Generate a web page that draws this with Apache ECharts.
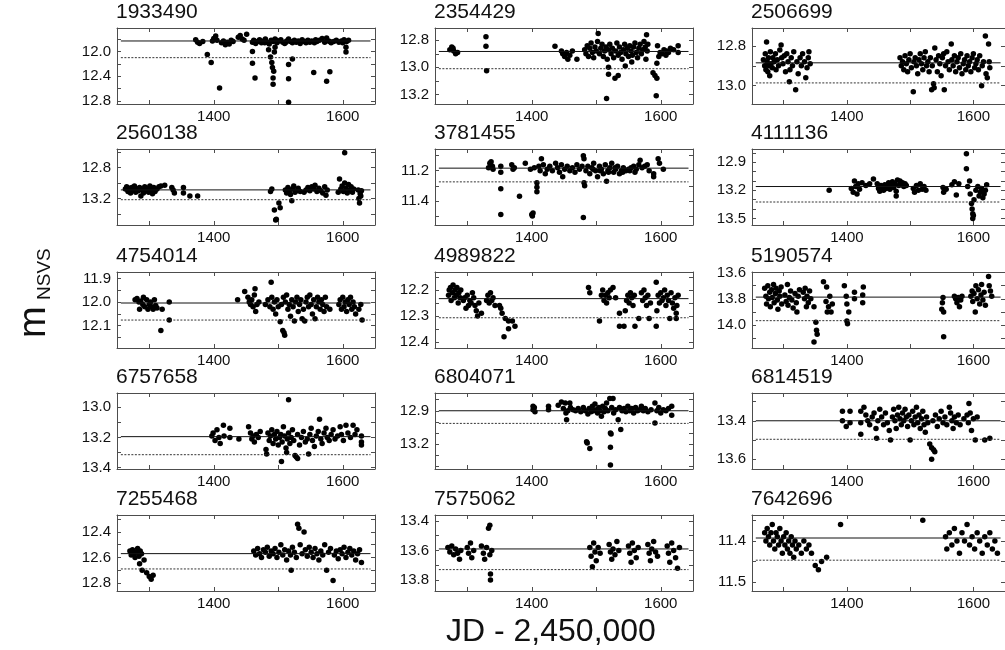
<!DOCTYPE html>
<html>
<head>
<meta charset="utf-8">
<script src="https://cdn.jsdelivr.net/npm/echarts@6.0.0/dist/echarts.min.js"></script>
<style>
html, body { margin: 0; background: #fff; }
#chart { width: 1005px; height: 650px; }
</style>
</head>
<body>
<div id="chart"></div>
<script>
// star ids, reading order (3 per row)
const stars = ['1933490', '2354429', '2506699', '2560138', '3781455', '4111136', '4754014', '4989822',
  '5190574', '6757658', '6804071', '6814519', '7255468', '7575062', '7642696'];

const xLabels = [1400, 1600];
const xTicks = [1300, 1400, 1500, 1600];

// y ranges (magnitudes, axis inverted)
const yMins = [11.62, 12.71, 12.71, 12.56, 11.056, 12.76, 11.873, 12.13, 13.595, 12.905, 12.74, 13.256, 12.267, 13.36, 11.337];
const yMaxs = [12.85, 13.27, 13.092, 13.545, 11.56, 13.57, 12.194, 12.424, 14.176, 13.41, 13.425, 13.65, 12.863, 13.875, 11.522];
const yLabels = [
  [12.0, 12.4, 12.8], [12.8, 13.0, 13.2], [12.8, 13.0], [12.8, 13.2], [11.2, 11.4],
  [12.9, 13.2, 13.5], [11.9, 12.0, 12.1], [12.2, 12.3, 12.4], [13.6, 13.8, 14.0], [13.0, 13.2, 13.4],
  [12.9, 13.2], [13.4, 13.6], [12.4, 12.6, 12.8], [13.4, 13.6, 13.8], [11.4, 11.5]
];
const yTicks = [
  [11.8, 12.0, 12.2, 12.4, 12.6, 12.8], [12.8, 12.9, 13.0, 13.1, 13.2], [12.8, 12.9, 13.0],
  [12.6, 12.8, 13.0, 13.2, 13.4], [11.1, 11.2, 11.3, 11.4, 11.5],
  [12.8, 12.9, 13.0, 13.1, 13.2, 13.3, 13.4, 13.5], [11.9, 11.95, 12.0, 12.05, 12.1, 12.15],
  [12.15, 12.2, 12.25, 12.3, 12.35, 12.4], [13.6, 13.7, 13.8, 13.9, 14.0, 14.1],
  [13.0, 13.1, 13.2, 13.3, 13.4], [12.8, 12.9, 13.0, 13.1, 13.2, 13.3, 13.4], [13.3, 13.4, 13.5, 13.6],
  [12.3, 12.4, 12.5, 12.6, 12.7, 12.8], [13.4, 13.5, 13.6, 13.7, 13.8], [11.35, 11.4, 11.45, 11.5]
];

// median (solid) and threshold (dotted) levels
const medians = [11.83, 12.883, 12.885, 13.09, 11.183, 13.16, 12.004, 12.233, 13.787, 13.195, 12.9, 13.4, 12.57, 13.59, 11.393];
const limits = [12.1, 13.01, 12.986, 13.217, 11.274, 13.325, 12.076, 12.307, 13.967, 13.315, 13.014, 13.496, 12.69, 13.73, 11.447];
const lineSpan = [1256, 1643];

// light curves [JD-2450000, mag]
const s1933490 = [[1372,11.81],[1375,11.85],[1378,11.87],[1383,11.84],[1398,11.83],[1400,11.79],[1403,11.75],[1405,11.82],[1412,11.86],[1415,11.83],[1418,11.89],[1421,11.85],[1424,11.88],[1427,11.82],[1430,11.84],[1438,11.77],[1441,11.74],[1444,11.8],[1447,11.82],[1451,11.72],[1460,11.85],[1462,11.82],[1465,11.87],[1468,11.84],[1471,11.81],[1474,11.86],[1477,11.83],[1480,11.8],[1483,11.85],[1486,11.88],[1489,11.82],[1492,11.84],[1495,11.8],[1498,11.86],[1501,11.83],[1504,11.81],[1507,11.85],[1510,11.87],[1513,11.83],[1516,11.8],[1519,11.84],[1522,11.86],[1525,11.82],[1528,11.85],[1531,11.83],[1534,11.87],[1537,11.81],[1540,11.84],[1543,11.86],[1546,11.82],[1549,11.85],[1552,11.83],[1556,11.86],[1560,11.84],[1564,11.82],[1568,11.79],[1572,11.85],[1575,11.78],[1578,11.83],[1582,11.86],[1586,11.84],[1590,11.82],[1594,11.85],[1598,11.83],[1602,11.81],[1606,11.84],[1609,11.82],[1463,11.83],[1479,11.86],[1497,11.82],[1512,11.85],[1527,11.84],[1545,11.83],[1558,11.81],[1580,11.84],[1600,11.86],
  [1390,12.05],[1396,12.18],[1409,12.59],[1464,12.43],[1460,12.0],[1460,12.19],[1485,11.97],[1488,12.09],[1490,12.18],[1491,12.26],[1492,12.43],[1492,12.53],[1494,12.01],[1495,11.93],[1493,12.32],[1516,12.21],[1516,12.44],[1516,12.82],[1522,12.12],[1555,12.34],[1575,12.48],[1580,12.33],[1605,11.93],[1605,12.01]];
const s2354429 = [[1273,12.87],[1276,12.85],[1279,12.88],[1282,12.9],[1285,12.89],[1278,12.86],[1329,12.775],[1329,12.845],[1330,13.025],[1436,12.845],[1446,12.88],[1448,12.9],[1451,12.92],[1454,12.89],[1456,12.94],[1459,12.91],[1463,12.88],[1470,12.94],
  [1482,12.87],[1484,12.9],[1486,12.84],[1488,12.92],[1490,12.86],[1492,12.82],[1494,12.89],[1496,12.93],[1498,12.85],[1500,12.88],[1502,12.81],[1503,12.75],[1505,12.9],[1507,12.86],[1509,12.83],[1511,12.92],[1513,12.88],[1515,12.85],[1517,12.94],[1519,12.87],[1519,13.0],[1519,13.05],[1516,13.23],[1521,12.83],[1523,12.9],[1525,12.86],[1527,12.93],[1529,13.08],[1530,12.88],[1532,12.82],[1534,13.06],[1534,12.91],[1536,12.85],[1538,12.89],[1540,12.94],[1542,12.87],[1544,12.83],[1545,12.99],[1546,12.9],[1548,12.86],[1550,12.92],[1552,12.84],[1555,12.96],[1554,12.88],[1556,12.91],[1558,12.85],[1560,12.82],[1562,12.89],[1564,12.93],[1566,12.86],[1568,12.83],[1570,12.9],[1572,12.87],[1574,12.81],[1576,12.85],[1577,12.94],[1578,12.76],[1579,12.88],[1580,12.83],
  [1588,13.04],[1591,13.06],[1594,13.08],[1593,13.21],[1594,12.97],[1595,12.84],[1597,12.92],[1599,12.89],[1602,12.9],[1605,12.87],[1608,12.91],[1609,12.88],[1612,12.89],[1615,12.86],[1620,12.87],[1627,12.84],[1627,12.89]];
const s2506699 = [[1268,12.87],[1270,12.9],[1271,12.84],[1272,12.92],[1273,12.78],[1274,12.88],[1275,12.93],[1276,12.86],[1277,12.9],[1278,12.95],[1279,12.83],[1280,12.89],[1282,12.91],[1283,12.86],[1285,12.88],[1287,12.84],[1288,12.92],[1290,12.87],[1292,12.9],[1294,12.82],[1296,12.795],[1297,12.86],[1299,12.89],[1301,12.85],[1303,12.93],[1305,12.84],[1307,12.88],[1309,12.98],[1310,12.92],[1312,12.86],[1314,12.9],[1316,12.83],[1319,13.02],[1321,12.88],[1323,12.94],[1326,12.86],[1328,12.9],[1330,12.84],[1333,12.88],[1335,12.96],[1337,12.91],[1339,12.86],[1340,12.83],[1342,12.89],
  [1484,12.86],[1486,12.9],[1488,12.88],[1490,12.92],[1492,12.85],[1494,12.89],[1496,12.93],[1498,12.87],[1500,12.84],[1502,12.91],[1505,13.03],[1506,12.88],[1508,12.86],[1510,12.9],[1512,12.94],[1514,12.87],[1516,12.84],[1518,12.89],[1520,12.92],[1522,12.86],[1524,12.83],[1526,12.9],[1528,12.88],[1530,12.93],[1532,12.86],[1534,13.02],[1535,12.9],[1537,12.99],[1538,13.01],[1539,12.81],[1541,12.87],[1543,12.93],[1545,12.85],[1547,12.89],[1549,12.95],[1551,12.86],[1553,12.84],[1554,13.02],[1556,12.9],[1558,12.83],[1560,12.88],[1562,12.92],[1565,12.79],[1566,12.87],[1568,12.9],[1570,12.85],[1572,12.93],[1574,12.88],[1576,12.86],[1578,12.91],[1580,12.84],[1582,12.94],[1584,12.89],[1586,12.87],[1588,12.92],[1590,12.85],[1592,12.9],[1594,12.88],[1596,12.93],[1598,12.86],[1600,12.84],[1602,12.91],[1604,12.89],[1606,12.87],[1608,12.92],[1610,12.85],[1613,13.0],[1614,12.9],[1616,12.88],[1619,12.75],[1620,12.94],[1622,12.96],[1624,12.79],[1625,12.88],[1626,12.91]];
const s2560138 = [[1263,13.08],[1265,13.05],[1267,13.11],[1269,13.07],[1271,13.13],[1273,13.06],[1275,13.09],[1277,13.04],[1279,13.12],[1281,13.08],[1283,13.1],[1285,13.06],[1287,13.17],[1289,13.09],[1291,13.13],[1293,13.05],[1295,13.1],[1297,13.07],[1299,13.12],[1301,13.04],[1303,13.09],[1305,13.14],[1307,13.06],[1309,13.11],[1312,13.08],[1315,13.05],[1318,13.04],[1324,13.03],[1335,13.06],[1337,13.09],[1339,13.13],[1353,13.06],[1353,13.13],[1363,13.17],[1375,13.17],
  [1488,13.11],[1490,13.08],[1494,13.35],[1496,13.48],[1497,13.47],[1501,13.26],[1503,13.32],[1511,13.09],[1513,13.13],[1515,13.06],[1517,13.11],[1519,13.15],[1521,13.23],[1522,13.08],[1524,13.04],[1526,13.12],[1528,13.1],[1531,13.07],[1534,13.11],[1540,13.12],[1543,13.09],[1546,13.06],[1549,13.1],[1552,13.05],[1555,13.08],[1557,13.03],[1560,13.11],[1563,13.07],[1566,13.1],[1569,13.13],[1572,13.05],[1574,13.16],[1576,13.09],
  [1593,13.12],[1595,12.95],[1597,13.08],[1599,13.04],[1601,13.11],[1603,12.61],[1603,13.0],[1605,13.07],[1607,13.13],[1609,13.02],[1611,13.09],[1613,13.05],[1615,13.12],[1617,13.08],[1624,13.09],[1625,13.2],[1626,13.26],[1627,13.14],[1628,13.17],[1629,13.1]];
const s3781455 = [[1333,11.18],[1335,11.15],[1337,11.14],[1339,11.17],[1340,11.19],[1352,11.17],[1352,11.21],[1352,11.32],[1352,11.49],[1369,11.16],[1371,11.19],[1373,11.18],[1381,11.37],[1390,11.15],[1400,11.49],[1401,11.5],[1402,11.48],[1398,11.19],[1404,11.18],[1408,11.28],[1408,11.31],[1408,11.34],[1411,11.17],[1413,11.2],[1415,11.12],[1418,11.16],[1421,11.22],[1424,11.19],[1428,11.17],[1432,11.2],[1437,11.15],[1440,11.18],[1443,11.21],[1446,11.16],[1448,11.24],[1451,11.19],[1455,11.17],[1459,11.2],[1463,11.18],[1467,11.21],[1470,11.16],[1474,11.19],[1478,11.17],[1480,11.1],[1481,11.12],[1481,11.28],[1482,11.3],[1480,11.51],[1484,11.2],[1487,11.17],[1490,11.22],[1493,11.18],[1496,11.15],[1499,11.2],[1502,11.24],[1505,11.17],[1508,11.19],[1511,11.22],[1514,11.16],[1516,11.27],[1518,11.2],[1521,11.18],[1524,11.15],[1527,11.21],[1530,11.19],[1533,11.17],[1536,11.22],[1539,11.2],[1542,11.18],[1546,11.2],[1550,11.19],[1554,11.18],[1558,11.17],[1562,11.19],[1566,11.16],[1568,11.13],[1571,11.18],[1575,11.17],[1579,11.16],[1582,11.2],[1589,11.22],[1589,11.24],[1596,11.12],[1598,11.15],[1604,11.19],[1495,11.19],[1506,11.2],[1519,11.21],[1529,11.18],[1541,11.21],[1552,11.2],[1560,11.21]];
const s4111136 = [[1372,13.2],[1407,13.18],[1410,13.22],[1412,13.1],[1414,13.16],[1416,13.24],[1418,13.13],[1420,13.19],[1424,13.12],[1430,13.15],[1436,13.13],[1442,13.08],[1448,13.13],[1450,13.18],[1452,13.21],[1454,13.15],[1456,13.17],[1458,13.2],[1460,13.14],[1462,13.18],[1464,13.16],[1466,13.12],[1468,13.19],[1470,13.15],[1472,13.11],[1474,13.17],[1476,13.13],[1478,13.26],[1478,13.21],[1480,13.09],[1482,13.15],[1484,13.1],[1486,13.14],[1488,13.12],[1490,13.16],[1492,13.13],[1494,13.15],
  [1505,13.18],[1507,13.22],[1510,13.15],[1513,13.2],[1516,13.13],[1519,13.19],[1522,13.16],[1525,13.2],[1552,13.17],[1553,13.22],[1557,13.19],[1566,13.14],[1570,13.11],[1573,13.25],[1577,13.13],[1589,12.81],[1589,12.97],[1591,13.16],[1594,13.1],[1595,13.24],[1597,13.34],[1598,13.4],[1599,13.45],[1599,13.5],[1600,13.47],[1601,13.3],[1604,13.2],[1607,13.16],[1609,13.26],[1611,13.22],[1613,13.18],[1615,13.28],[1617,13.24],[1619,13.2],[1621,13.14]];
const s4754014 = [[1278,11.99],[1281,11.985],[1284,12.0],[1287,11.995],[1290,12.01],[1293,12.02],[1296,11.99],[1298,12.03],[1300,12.01],[1302,12.0],[1304,12.02],[1306,12.03],[1308,11.99],[1285,12.03],[1291,11.98],[1310,12.015],[1312,12.025],[1318,12.12],[1331,12.0],[1331,12.076],[1320,12.03],
  [1437,11.99],[1448,11.955],[1453,11.98],[1455,12.0],[1457,12.01],[1459,11.99],[1461,12.02],[1463,11.97],[1464,11.944],[1465,12.04],[1467,12.01],[1470,12.0],[1480,12.01],[1484,11.99],[1487,12.02],[1489,11.916],[1490,11.98],[1492,12.03],[1494,12.0],[1496,12.05],[1498,11.99],[1500,12.02],[1503,12.083],[1505,12.01],[1507,12.12],[1509,12.13],[1510,12.14],[1508,11.98],[1511,12.0],[1513,11.97],[1515,12.03],[1517,12.01],[1519,12.06],[1521,11.99],[1523,12.02],[1525,12.08],[1527,12.0],[1529,11.98],[1531,12.04],[1533,12.01],[1535,11.99],[1537,12.07],[1539,12.03],[1541,12.08],[1543,12.0],[1545,11.98],[1547,12.02],[1549,11.97],[1551,12.01],[1553,12.05],[1555,11.99],[1557,12.07],[1559,12.02],[1561,11.98],[1563,12.0],[1565,12.03],[1567,11.99],[1569,12.01],[1571,12.04],[1573,11.98],[1575,12.02],[1580,12.03],[1594,12.01],[1596,11.99],[1598,12.03],[1600,11.98],[1602,12.02],[1604,12.0],[1606,12.04],[1608,11.99],[1610,12.01],[1612,11.98],[1614,12.03],[1616,12.0],[1618,12.02],[1620,12.05],[1625,12.03],[1628,12.01],[1630,12.076]];
const s4989822 = [[1271,12.22],[1272,12.2],[1274,12.19],[1275,12.24],[1277,12.21],[1278,12.18],[1280,12.23],[1281,12.2],[1283,12.22],[1284,12.19],[1286,12.25],[1287,12.21],[1289,12.23],[1290,12.2],[1294,12.24],[1296,12.23],[1298,12.27],[1300,12.22],[1302,12.26],[1304,12.24],[1306,12.25],[1308,12.21],[1310,12.23],[1312,12.26],[1314,12.28],[1316,12.3],[1318,12.25],[1322,12.29],[1330,12.24],[1332,12.22],[1334,12.25],[1336,12.21],[1338,12.24],[1340,12.23],[1343,12.26],[1350,12.26],[1352,12.27],[1354,12.29],[1359,12.31],[1364,12.32],[1357,12.38],[1364,12.35],[1370,12.32],[1374,12.34],
  [1488,12.19],[1490,12.21],[1505,12.32],[1508,12.22],[1510,12.2],[1512,12.24],[1514,12.22],[1516,12.25],[1518,12.21],[1520,12.23],[1522,12.2],[1526,12.19],[1530,12.23],[1536,12.34],[1536,12.29],[1543,12.34],[1545,12.28],[1547,12.24],[1549,12.22],[1551,12.25],[1553,12.21],[1555,12.23],[1557,12.26],[1559,12.22],[1560,12.34],[1566,12.31],[1570,12.21],[1572,12.24],[1574,12.2],[1576,12.23],[1578,12.26],[1580,12.22],[1582,12.31],[1584,12.25],[1593,12.17],[1593,12.34],[1594,12.28],[1596,12.22],[1598,12.25],[1600,12.21],[1602,12.24],[1604,12.23],[1606,12.2],[1608,12.26],[1610,12.22],[1612,12.24],[1614,12.31],[1616,12.21],[1618,12.25],[1620,12.27],[1622,12.23],[1624,12.31],[1624,12.29],[1625,12.26],[1627,12.22]];
const s5190574 = [[1270,13.72],[1272,13.78],[1273,13.84],[1275,13.7],[1276,13.8],[1278,13.75],[1279,13.86],[1281,13.73],[1282,13.79],[1284,13.69],[1285,13.83],[1287,13.76],[1288,13.72],[1290,13.81],[1291,13.88],[1293,13.74],[1294,13.78],[1296,13.71],[1297,13.84],[1302,13.77],[1304,13.82],[1306,13.69],[1307,13.85],[1309,13.79],[1311,13.74],[1313,13.81],[1315,13.87],[1318,13.76],[1320,13.83],[1321,13.9],[1323,13.78],[1325,13.73],[1331,13.75],[1333,13.8],[1334,13.72],[1336,13.86],[1337,13.78],[1339,13.83],[1341,13.74],[1343,13.8],[1348,13.86],[1351,13.98],[1352,14.04],[1353,14.07],[1348,14.13],[1363,13.67],[1368,13.71],[1367,13.82],[1369,13.9],[1371,13.86],[1373,13.78],[1375,13.9],[1377,13.84],[1396,13.7],[1399,13.78],[1400,13.84],[1400,13.97],[1401,13.99],[1403,13.9],[1412,13.75],[1412,13.8],[1426,13.71],[1425,13.77],[1425,13.83],
  [1552,13.79],[1551,13.83],[1550,13.88],[1553,13.9],[1553,14.09],[1570,13.78],[1572,13.8],[1574,13.83],[1576,13.79],[1578,13.86],[1580,13.81],[1582,13.78],[1596,13.78],[1598,13.74],[1599,13.82],[1601,13.76],[1603,13.9],[1604,13.7],[1606,13.8],[1608,13.73],[1610,13.84],[1612,13.77],[1613,13.69],[1615,13.81],[1617,13.75],[1619,13.85],[1624,13.63],[1625,13.7],[1627,13.74],[1629,13.78]];
const s6757658 = [[1397,13.19],[1399,13.17],[1402,13.22],[1405,13.15],[1408,13.2],[1410,13.24],[1415,13.12],[1416,13.19],[1425,13.14],[1425,13.2],[1439,13.21],[1454,13.13],[1457,13.17],[1459,13.21],[1461,13.19],[1463,13.23],[1466,13.18],[1469,13.2],[1472,13.16],[1481,13.28],[1482,13.31],[1484,13.17],[1486,13.22],[1488,13.19],[1490,13.15],[1492,13.24],[1494,13.18],[1496,13.21],[1498,13.16],[1500,13.25],[1502,13.2],[1504,13.18],[1505,13.36],[1506,13.23],[1508,13.13],[1510,13.19],[1512,13.27],[1513,13.3],[1514,13.21],[1516,12.95],[1516,13.17],[1518,13.24],[1520,13.2],[1522,13.15],[1524,13.22],[1526,13.32],[1528,13.33],[1530,13.34],[1530,13.18],[1533,13.25],[1536,13.2],[1539,13.16],[1542,13.23],[1545,13.21],[1547,13.31],[1549,13.18],[1551,13.14],[1553,13.22],[1556,13.26],[1559,13.19],[1562,13.16],[1564,13.08],[1566,13.21],[1568,13.24],[1571,13.17],[1574,13.14],[1576,13.2],[1579,13.22],[1582,13.18],[1585,13.15],[1588,13.21],[1592,13.19],[1596,13.13],[1598,13.18],[1601,13.22],[1605,13.12],[1608,13.17],[1612,13.2],[1616,13.12],[1619,13.18],[1622,13.15],[1629,13.19],[1629,13.23],[1629,13.25]];
const s6804071 = [[1402,12.86],[1402,12.89],[1405,12.91],[1404,12.87],[1426,12.86],[1426,12.89],[1441,12.85],[1446,12.82],[1452,12.83],[1459,12.83],[1449,12.88],[1453,12.92],[1454,12.98],[1456,12.9],[1460,12.87],[1464,12.89],[1468,12.9],[1472,12.88],[1476,12.91],[1480,12.87],[1483,12.9],[1485,13.18],[1486,13.19],[1490,13.24],[1487,12.93],[1489,12.88],[1492,12.91],[1494,12.86],[1496,12.9],[1498,12.84],[1500,12.89],[1502,12.92],[1504,12.87],[1506,12.9],[1508,12.95],[1510,12.86],[1512,12.91],[1514,12.88],[1516,12.83],[1518,12.9],[1521,12.79],[1526,12.79],[1522,13.1],[1523,13.11],[1522,13.23],[1522,13.39],[1524,12.87],[1527,12.92],[1530,12.89],[1534,12.98],[1536,12.87],[1538,13.07],[1540,12.9],[1543,12.88],[1546,12.91],[1549,12.86],[1552,12.9],[1555,12.88],[1558,12.92],[1561,12.87],[1564,12.9],[1567,12.89],[1570,12.86],[1573,12.9],[1576,12.88],[1580,12.91],[1585,12.89],[1591,12.83],[1591,13.01],[1594,12.9],[1597,12.87],[1600,12.92],[1604,12.89],[1608,12.9],[1612,12.88],[1617,12.86],[1617,12.94]];
const s6814519 = [[1393,13.35],[1393,13.4],[1399,13.43],[1405,13.35],[1405,13.41],[1422,13.35],[1422,13.41],[1422,13.47],[1427,13.33],[1430,13.37],[1433,13.4],[1436,13.42],[1440,13.38],[1443,13.36],[1447,13.49],[1446,13.44],[1449,13.4],[1452,13.34],[1455,13.38],[1458,13.42],[1461,13.36],[1464,13.41],[1467,13.45],[1469,13.5],[1472,13.38],[1474,13.34],[1476,13.4],[1478,13.44],[1480,13.37],[1482,13.33],[1484,13.39],[1486,13.42],[1488,13.36],[1490,13.4],[1492,13.34],[1494,13.38],[1496,13.43],[1498,13.37],[1500,13.5],[1502,13.4],[1504,13.35],[1506,13.42],[1508,13.38],[1510,13.33],[1512,13.41],[1514,13.37],[1516,13.44],[1518,13.39],[1520,13.35],[1522,13.42],[1524,13.46],[1526,13.38],[1528,13.41],[1531,13.52],[1534,13.54],[1537,13.55],[1534,13.6],[1539,13.56],[1536,13.4],[1540,13.37],[1543,13.43],[1546,13.39],[1549,13.35],[1552,13.41],[1555,13.38],[1558,13.42],[1562,13.33],[1564,13.36],[1566,13.4],[1568,13.44],[1570,13.38],[1573,13.41],[1576,13.37],[1579,13.42],[1585,13.39],[1590,13.37],[1593,13.31],[1592,13.41],[1595,13.36],[1597,13.45],[1600,13.39],[1603,13.5],[1606,13.38],[1618,13.5],[1626,13.49]];
const s7255468 = [[1270,12.55],[1272,12.58],[1274,12.54],[1276,12.57],[1278,12.6],[1280,12.56],[1282,12.53],[1284,12.59],[1286,12.55],[1288,12.57],[1285,12.65],[1289,12.7],[1292,12.62],[1296,12.72],[1300,12.75],[1303,12.77],[1306,12.74],
  [1462,12.55],[1465,12.58],[1468,12.53],[1471,12.57],[1474,12.6],[1477,12.54],[1480,12.56],[1483,12.52],[1486,12.59],[1489,12.55],[1492,12.57],[1495,12.53],[1498,12.6],[1501,12.56],[1504,12.5],[1507,12.58],[1510,12.54],[1513,12.62],[1516,12.55],[1519,12.58],[1520,12.7],[1522,12.52],[1525,12.56],[1528,12.6],[1530,12.34],[1532,12.37],[1534,12.5],[1537,12.57],[1540,12.4],[1542,12.54],[1545,12.59],[1548,12.52],[1551,12.56],[1554,12.6],[1557,12.53],[1560,12.57],[1563,12.62],[1566,12.55],[1569,12.58],[1572,12.5],[1575,12.7],[1578,12.56],[1581,12.53],[1585,12.78],[1587,12.58],[1590,12.55],[1593,12.61],[1596,12.54],[1599,12.57],[1602,12.52],[1605,12.6],[1608,12.56],[1611,12.53],[1614,12.58],[1617,12.55],[1620,12.62],[1623,12.57],[1626,12.54],[1629,12.64]];
const s7575062 = [[1270,13.58],[1273,13.61],[1276,13.57],[1279,13.63],[1282,13.59],[1285,13.62],[1288,13.66],[1290,13.6],[1300,13.58],[1302,13.62],[1305,13.55],[1307,13.65],[1310,13.6],[1322,13.57],[1325,13.62],[1327,13.66],[1330,13.58],[1333,13.45],[1335,13.43],[1335,13.63],[1336,13.76],[1336,13.8],[1338,13.6],
  [1490,13.58],[1492,13.64],[1494,13.71],[1496,13.55],[1498,13.61],[1500,13.67],[1503,13.58],[1506,13.62],[1520,13.56],[1522,13.61],[1524,13.66],[1526,13.59],[1529,13.63],[1532,13.54],[1535,13.6],[1550,13.57],[1552,13.62],[1554,13.68],[1556,13.55],[1559,13.6],[1562,13.65],[1565,13.58],[1580,13.56],[1582,13.62],[1584,13.67],[1586,13.59],[1589,13.54],[1592,13.61],[1595,13.64],[1610,13.57],[1612,13.62],[1614,13.68],[1617,13.55],[1620,13.6],[1623,13.65],[1626,13.72],[1629,13.58]];
const s7642696 = [[1270,11.38],[1272,11.4],[1274,11.37],[1276,11.39],[1278,11.41],[1280,11.38],[1282,11.36],[1284,11.4],[1286,11.42],[1288,11.38],[1290,11.39],[1292,11.41],[1294,11.37],[1296,11.4],[1298,11.43],[1300,11.39],[1302,11.41],[1304,11.38],[1306,11.42],[1308,11.4],[1310,11.43],[1312,11.39],[1314,11.41],[1316,11.44],[1318,11.4],[1320,11.42],[1324,11.41],[1328,11.43],[1332,11.4],[1336,11.42],[1340,11.41],[1344,11.43],[1350,11.46],[1355,11.47],[1360,11.45],[1368,11.44],[1390,11.36],[1520,11.35],
  [1556,11.39],[1558,11.42],[1562,11.38],[1566,11.41],[1570,11.37],[1574,11.4],[1578,11.43],[1582,11.38],[1586,11.4],[1590,11.36],[1594,11.41],[1598,11.39],[1602,11.42],[1606,11.38],[1610,11.4],[1614,11.43],[1618,11.39],[1622,11.41],[1626,11.38],[1630,11.42],[1634,11.4],[1638,11.43]];

const panels = [s1933490, s2354429, s2506699, s2560138, s3781455, s4111136, s4754014, s4989822,
  s5190574, s6757658, s6804071, s6814519, s7255468, s7575062, s7642696];

// layout
const colX = [117, 435, 752];
const rowY = [28, 149, 272, 393, 515];
const W = 258, H = 76;
const frame = '#4d4d4d';
const font = 'Liberation Sans, Arial, sans-serif';

const grid = [], xAxis = [], yAxis = [], series = [], title = [];

stars.forEach(function (name, i) {
  const left = colX[i % 3], top = rowY[Math.floor(i / 3)];
  grid.push({ left: left, top: top, width: W, height: H });
  title.push({
    text: name, left: left - 1, top: top - 26, padding: 0,
    textStyle: { fontSize: 21, fontWeight: 'normal', fontFamily: font, color: '#111' }
  });
  const tick = function (vals) {
    return { show: true, inside: true, length: 4, customValues: vals, lineStyle: { color: frame } };
  };
  const line = { show: true, onZero: false, lineStyle: { color: frame, width: 1 } };
  xAxis.push({
    gridIndex: i, type: 'value', min: 1250, max: 1650, position: 'bottom',
    axisLine: line, axisTick: tick(xTicks), splitLine: { show: false },
    axisLabel: {
      customValues: xLabels, margin: 5, fontSize: 15, color: '#111', fontFamily: font,
      formatter: function (v) { return String(v); }
    }
  });
  xAxis.push({
    gridIndex: i, type: 'value', min: 1250, max: 1650, position: 'top',
    axisLine: line, axisTick: tick(xTicks), splitLine: { show: false }, axisLabel: { show: false }
  });
  yAxis.push({
    gridIndex: i, type: 'value', inverse: true, min: yMins[i], max: yMaxs[i], position: 'left',
    axisLine: line, axisTick: tick(yTicks[i]), splitLine: { show: false },
    axisLabel: {
      customValues: yLabels[i], margin: 6, fontSize: 15, color: '#111', fontFamily: font,
      formatter: function (v) { return v.toFixed(1); }
    }
  });
  yAxis.push({
    gridIndex: i, type: 'value', inverse: true, min: yMins[i], max: yMaxs[i], position: 'right',
    axisLine: line, axisTick: tick(yTicks[i]), splitLine: { show: false }, axisLabel: { show: false }
  });
  series.push({
    type: 'scatter', xAxisIndex: 2 * i, yAxisIndex: 2 * i, data: panels[i],
    symbolSize: 5.5, itemStyle: { color: '#000', opacity: 1 }, silent: true
  });
  series.push({
    type: 'line', xAxisIndex: 2 * i, yAxisIndex: 2 * i, symbol: 'none', silent: true,
    data: [[lineSpan[0], medians[i]], [lineSpan[1], medians[i]]],
    lineStyle: { color: '#111', width: 1 }
  });
  series.push({
    type: 'line', xAxisIndex: 2 * i, yAxisIndex: 2 * i, symbol: 'none', silent: true,
    data: [[lineSpan[0], limits[i]], [lineSpan[1], limits[i]]],
    lineStyle: { color: '#333', width: 1, type: [2, 1.5] }
  });
});

const option = {
  animation: false,
  backgroundColor: '#fff',
  title: title,
  grid: grid,
  xAxis: xAxis,
  yAxis: yAxis,
  series: series,
  graphic: [
    { type: 'text', x: 446, y: 616, style: { text: 'JD - 2,450,000', font: '32px ' + font, fill: '#111' } },
    { type: 'text', x: 16, y: 338, rotation: Math.PI / 2, style: { text: 'm', font: '38px ' + font, fill: '#111' } },
    { type: 'text', x: 35, y: 300, rotation: Math.PI / 2, style: { text: 'NSVS', font: '19px ' + font, fill: '#111' } }
  ]
};

echarts.init(document.getElementById('chart')).setOption(option);
</script>
</body>
</html>
